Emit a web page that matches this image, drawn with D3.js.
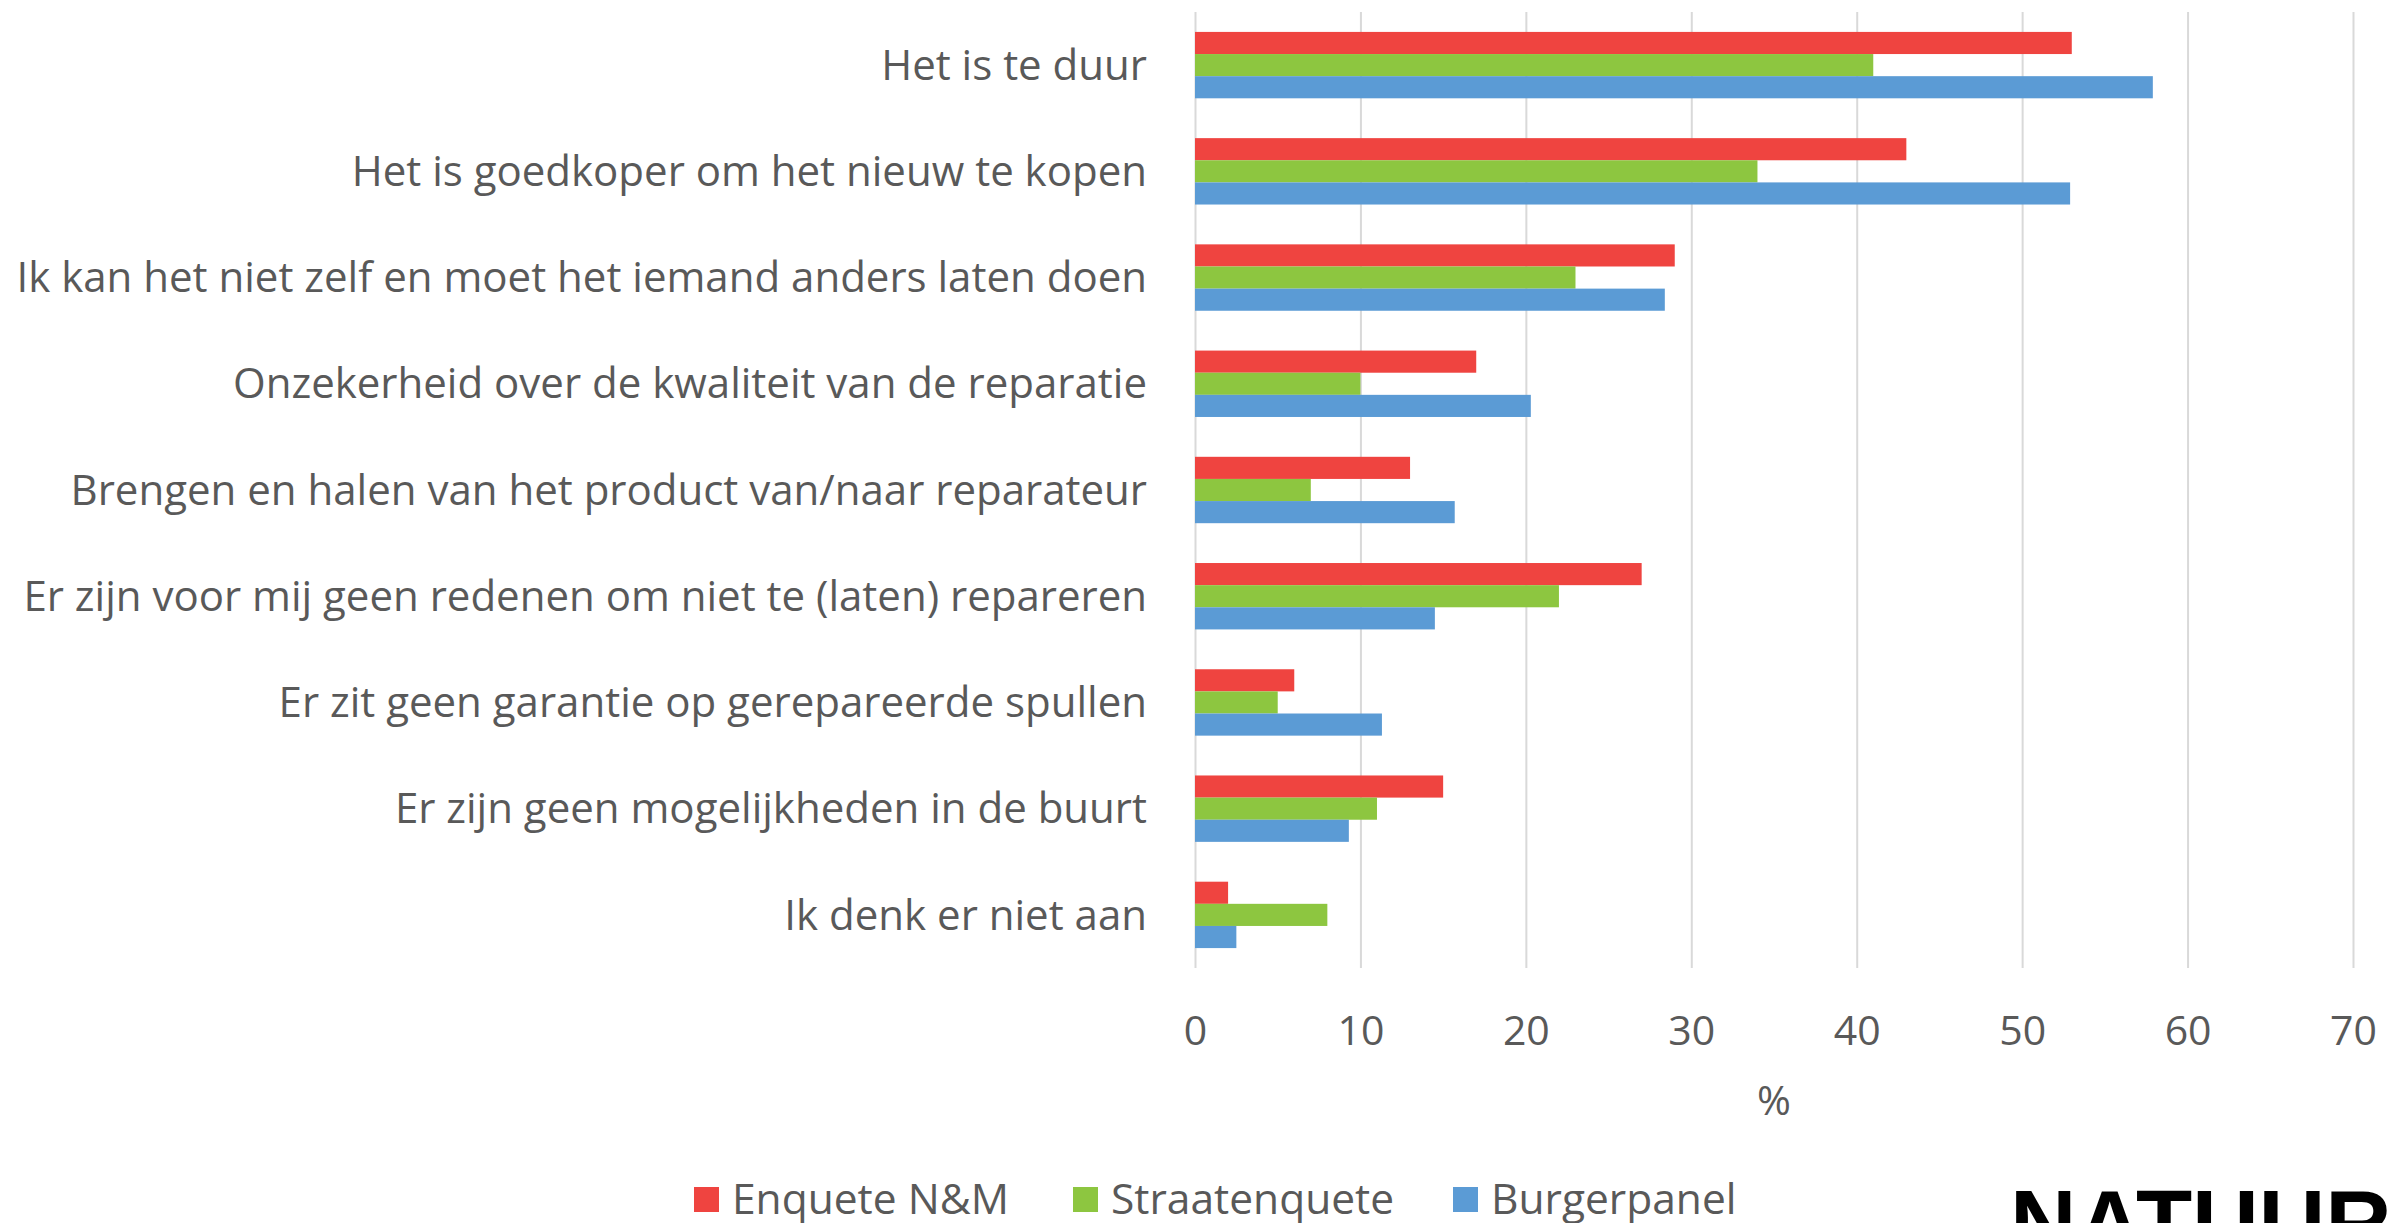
<!DOCTYPE html>
<html lang="nl">
<head>
<meta charset="UTF-8">
<title>Redenen om niet te repareren</title>
<script src="https://d3js.org/d3.v7.min.js"></script>
<style>
  body { margin: 0; background: #fff; overflow: hidden; }
  svg { display: block; font-family: "Open Sans", sans-serif; }
</style>
</head>
<body>
<svg id="chart" width="2408" height="1223"></svg>

<script>
// data
const categories = [
  "Het is te duur",
  "Het is goedkoper om het nieuw te kopen",
  "Ik kan het niet zelf en moet het iemand anders laten doen",
  "Onzekerheid over de kwaliteit van de reparatie",
  "Brengen en halen van het product van/naar reparateur",
  "Er zijn voor mij geen redenen om niet te (laten) repareren",
  "Er zit geen garantie op gerepareerde spullen",
  "Er zijn geen mogelijkheden in de buurt",
  "Ik denk er niet aan"
];
const seriesNames = ["Enquete N&M", "Straatenquete", "Burgerpanel"];
const enqueteNM     = [53, 43, 29, 17, 13, 27, 6, 15, 2];
const straatenquete = [41, 34, 23, 10, 7, 22, 5, 11, 8];
const burgerpanel   = [57.9, 52.9, 28.4, 20.3, 15.7, 14.5, 11.3, 9.3, 2.5];
const xTicks = [0, 10, 20, 30, 40, 50, 60, 70];
const colors = ["#EF4440", "#8DC640", "#5B9BD5"];

const allSeries = [enqueteNM, straatenquete, burgerpanel];
const rows = categories.map((c, i) => ({
  cat: c,
  vals: seriesNames.map((s, j) => ({ key: s, value: allSeries[j][i] }))
}));

const svg = d3.select("#chart");
const textColor = "#595959";

const plotLeft = 1195, plotRight = 2353, plotTop = 12, plotBottom = 968;

const x = d3.scaleLinear().domain([0, 70]).range([plotLeft, plotRight]);
const y = d3.scaleBand().domain(categories).range([plotTop, plotBottom])
  .paddingInner(0.375).paddingOuter(0.1875);
const ySub = d3.scaleBand().domain(seriesNames).range([0, y.bandwidth()]);
const color = d3.scaleOrdinal().domain(seriesNames).range(colors);

// gridlines
const grid = svg.append("g")
  .attr("transform", `translate(0,${plotBottom})`)
  .call(d3.axisBottom(x).tickValues(xTicks).tickSize(-(plotBottom - plotTop)).tickFormat(""));
grid.select(".domain").remove();
grid.selectAll(".tick line").attr("stroke", "#D9D9D9").attr("stroke-width", 2);

// tick labels
const axis = svg.append("g")
  .attr("transform", `translate(0,${plotBottom})`)
  .call(d3.axisBottom(x).tickValues(xTicks).tickSize(0).tickPadding(0));
axis.select(".domain").remove();
axis.selectAll(".tick text")
  .attr("y", 77)
  .attr("dy", 0)
  .attr("fill", textColor)
  .style("font-size", "41px")
  .style("font-family", "'Open Sans', sans-serif");

// axis title
svg.append("text")
  .attr("x", (plotLeft + plotRight) / 2)
  .attr("y", 1115)
  .attr("text-anchor", "middle")
  .attr("fill", textColor)
  .style("font-size", "41px")
  .text("%");

// bars
const groups = svg.append("g").selectAll("g")
  .data(rows)
  .join("g")
  .attr("transform", d => `translate(0,${y(d.cat)})`);

groups.selectAll("rect")
  .data(d => d.vals)
  .join("rect")
  .attr("x", x(0))
  .attr("y", d => ySub(d.key))
  .attr("width", d => x(d.value) - x(0))
  .attr("height", ySub.bandwidth())
  .attr("fill", d => color(d.key));

// category labels
svg.append("g").selectAll("text")
  .data(categories)
  .join("text")
  .attr("x", 1147)
  .attr("y", d => y(d) + y.bandwidth() / 2)
  .attr("dy", "0.35em")
  .attr("text-anchor", "end")
  .attr("fill", textColor)
  .style("font-size", "42px")
  .text(d => d);

// legend (the picture is cut off right through it)
const legendX = [694, 1073, 1453];
const legend = svg.append("g").selectAll("g")
  .data(seriesNames)
  .join("g")
  .attr("transform", (d, i) => `translate(${legendX[i]},1187)`);
legend.append("rect")
  .attr("width", 25).attr("height", 25)
  .attr("fill", d => color(d));
legend.append("text")
  .attr("x", 38)
  .attr("y", 12.5)
  .attr("dy", "0.35em")
  .attr("fill", textColor)
  .style("font-size", "42.5px")
  .text(d => d);

// logo, cut off at the bottom edge
svg.append("text")
  .attr("x", 2010)
  .attr("y", 1255)
  .attr("fill", "#000")
  .style("font-family", "'Liberation Sans', Arial, sans-serif")
  .style("font-weight", "bold")
  .style("font-size", "92px")
  .text("NATUUR");
</script>
</body>
</html>
